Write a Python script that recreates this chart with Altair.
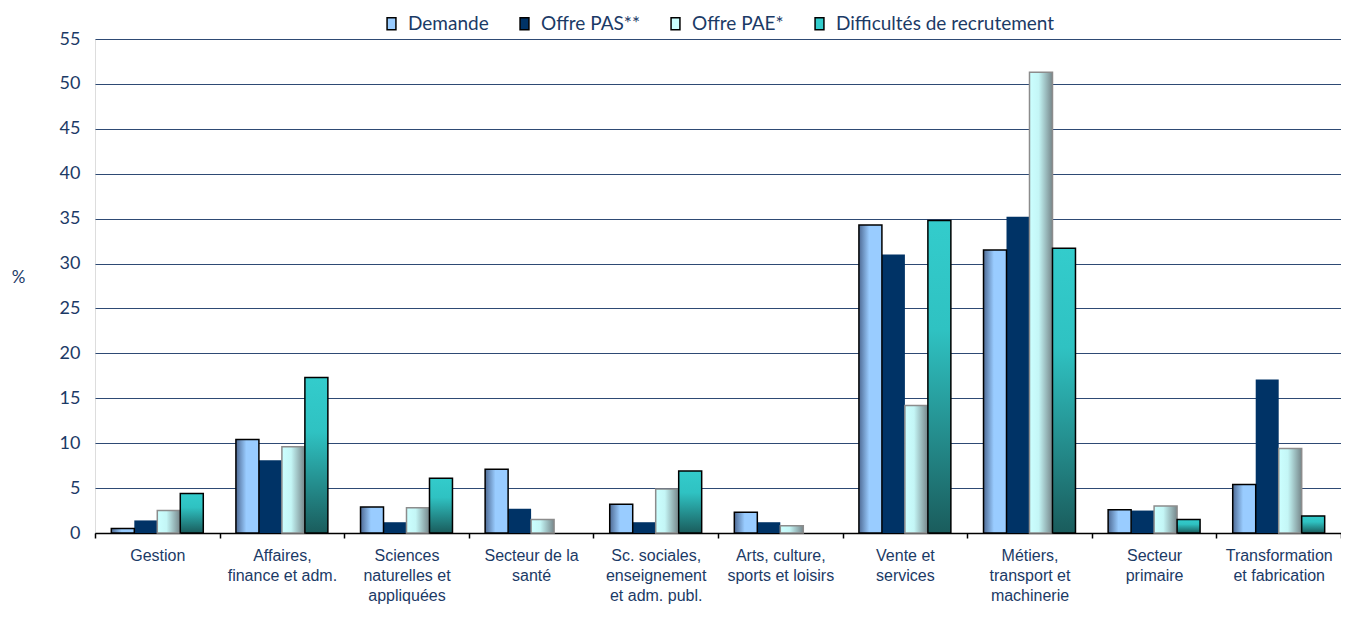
import altair as alt
import pandas as pd

categories = [
    "Gestion",
    "Affaires,|finance et adm.",
    "Sciences|naturelles et|appliquées",
    "Secteur de la|santé",
    "Sc. sociales,|enseignement|et adm. publ.",
    "Arts, culture,|sports et loisirs",
    "Vente et|services",
    "Métiers,|transport et|machinerie",
    "Secteur|primaire",
    "Transformation|et fabrication",
]
series = ["Demande", "Offre PAS**", "Offre PAE*", "Difficultés de recrutement"]
demande = [0.5, 10.4, 2.9, 7.1, 3.2, 2.3, 34.3, 31.5, 2.6, 5.4]
offre_pas = [1.4, 8.1, 1.2, 2.7, 1.2, 1.2, 31.0, 35.2, 2.5, 17.1]
offre_pae = [2.5, 9.6, 2.8, 1.5, 4.9, 0.8, 14.2, 51.3, 3.0, 9.4]
difficultes = [4.4, 17.3, 6.1, 0.0, 6.9, 0.0, 34.8, 31.7, 1.5, 1.9]
y_ticks = list(range(0, 60, 5))

rows = []
for s, vals in zip(series, [demande, offre_pas, offre_pae, difficultes]):
    for c, v in zip(categories, vals):
        rows.append({"category": c, "series": s, "value": v})
df = pd.DataFrame(rows)

TXT = "#1B3A66"
W, H = 1246, 494

base = alt.Chart(df).transform_filter("datum.value > 0").encode(
    x=alt.X(
        "category:N",
        sort=categories,
        title=None,
        scale=alt.Scale(domain=categories, paddingInner=0, paddingOuter=0),
        axis=alt.Axis(
            labelExpr="split(datum.label, '|')",
            labelAngle=0,
            labelFont="Liberation Sans",
            labelFontSize=16,
            labelLineHeight=20,
            labelColor=TXT,
            labelPadding=9,
            labelBaseline="top",
            tickBand="extent",
            ticks=True,
            tickSize=5,
            tickColor="black",
            tickWidth=1.5,
            domainColor="black",
            domainWidth=1.5,
            grid=False,
        ),
    ),
    xOffset=alt.XOffset(
        "series:N",
        sort=series,
        scale=alt.Scale(domain=series, paddingInner=0, paddingOuter=0.71),
    ),
    y=alt.Y(
        "value:Q",
        title="%",
        scale=alt.Scale(domain=[0, 55], nice=False),
        axis=alt.Axis(
            values=y_ticks,
            domain=False,
            ticks=False,
            grid=True,
            gridColor="#2E4A74",
            gridWidth=1,
            labelFont="Lato",
            labelFontSize=18,
            labelColor=TXT,
            labelPadding=15,
            titleAngle=0,
            titleFont="Lato",
            titleFontSize=17,
            titleFontWeight="normal",
            titleColor=TXT,
            titleX=-77,
            titleY=238,
            titleAlign="center",
            titleBaseline="middle",
        ),
    ),
)

legend_layer = base.mark_bar(strokeWidth=0).encode(
    color=alt.Color(
        "series:N",
        sort=series,
        scale=alt.Scale(domain=series, range=["#99CCFF", "#003366", "#CCFFFF", "#33CCCC"]),
        legend=alt.Legend(
            title=None,
            orient="none",
            direction="horizontal",
            legendX=287,
            legendY=-25,
            symbolType="M-0.75,-1H0.75V1H-0.75Z",
            symbolSize=140,
            symbolStrokeColor="black",
            symbolStrokeWidth=1.5,
            labelFont="Lato",
            labelFontSize=19,
            labelColor=TXT,
            labelOffset=7,
            labelLimit=0,
            columnPadding=26,
            padding=0,
        ),
    )
)

grad_demande = alt.LinearGradient(
    gradient="linear", x1=0, x2=1, y1=0, y2=0,
    stops=[
        alt.GradientStop(offset=0, color="#4E6A94"),
        alt.GradientStop(offset=0.45, color="#99CCFF"),
        alt.GradientStop(offset=1, color="#99CCFF"),
    ],
)
grad_pae = alt.LinearGradient(
    gradient="linear", x1=0, x2=1, y1=0, y2=0,
    stops=[
        alt.GradientStop(offset=0, color="#CCFFFF"),
        alt.GradientStop(offset=0.4, color="#C4F6F6"),
        alt.GradientStop(offset=1, color="#76868A"),
    ],
)
grad_diff = alt.LinearGradient(
    gradient="linear", x1=0, x2=0, y1=0, y2=1,
    stops=[
        alt.GradientStop(offset=0, color="#33CCCC"),
        alt.GradientStop(offset=0.35, color="#2FC2C2"),
        alt.GradientStop(offset=1, color="#1A5C5C"),
    ],
)

l_dem = base.mark_bar(fill=grad_demande, stroke="black", strokeWidth=1.5).transform_filter(
    alt.datum.series == series[0]
)
l_pae = base.mark_bar(fill=grad_pae, stroke="#8C8C8C", strokeWidth=1.5).transform_filter(
    alt.datum.series == series[2]
)
l_diff = base.mark_bar(fill=grad_diff, stroke="black", strokeWidth=1.5).transform_filter(
    alt.datum.series == series[3]
)

chart = (
    alt.layer(legend_layer, l_dem, l_pae, l_diff)
    .properties(
        width=W,
        height=H,
        autosize=alt.AutoSizeParams(type="none"),
        padding={"left": 87, "top": 31, "right": 0, "bottom": 72},
    )
    .configure_view(stroke=None)
    .configure(background="white")
)

chart.save("out.html", embed_options={"renderer": "svg", "actions": False})
